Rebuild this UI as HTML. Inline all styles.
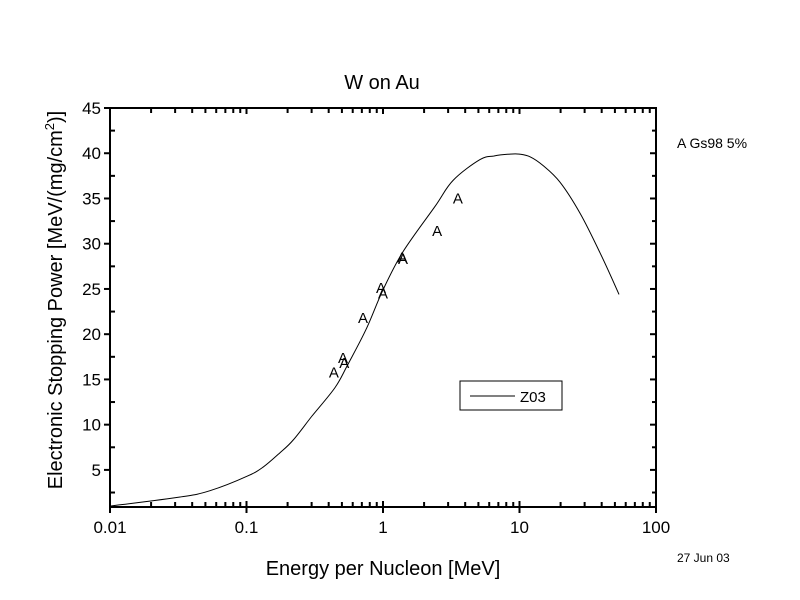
<!DOCTYPE html>
<html><head><meta charset="utf-8"><style>
body{margin:0;background:#fff;}
svg{display:block;font-family:"Liberation Sans",Arial,sans-serif;}
</style></head><body>
<svg id="chart" width="800" height="600" viewBox="0 0 800 600">
<rect width="800" height="600" fill="#fff"/>
<text x="382" y="89" font-size="20" text-anchor="middle">W on Au</text>
<text transform="translate(62,300) rotate(-90)" font-size="20" text-anchor="middle">Electronic Stopping Power [MeV/(mg/cm<tspan dy="-8" font-size="13">2</tspan><tspan dy="8">)]</tspan></text>
<text x="383" y="575" font-size="20" text-anchor="middle">Energy per Nucleon [MeV]</text>
<text x="677" y="148" font-size="14">A Gs98 5%</text>
<text x="677" y="562" font-size="12">27 Jun 03</text>
<g id="axes"></g>
<g id="series"></g>
<g>
<rect x="460" y="381" width="102" height="29" fill="#fff" stroke="#000" stroke-width="1"/>
<line x1="470" y1="396" x2="515" y2="396" stroke="#000"/>
<text x="520" y="402" font-size="15">Z03</text>
</g>
</svg>
<script>
const curveE=[0.01,0.0326,0.054,0.101,0.132,0.176,0.22,0.3,0.445,0.55,0.75,1.0,1.4,2.4,3.26,5.14,6.5,8.5,10,12,15,19.8,27.7,38.9,53.6];
const curveS=[1.0,2.0,2.7,4.3,5.3,6.9,8.3,10.9,14.1,16.6,20.5,24.9,29.1,34.1,37.0,39.3,39.7,39.9,39.9,39.6,38.6,36.8,33.4,29.0,24.4];
const expE=[0.437,0.509,0.52,0.713,0.967,1.0,1.38,1.40,2.49,3.54];
const expS=[15.9,17.5,16.9,21.9,25.2,24.6,28.6,28.4,31.5,35.1];
const yTicks=[5,10,15,20,25,30,35,40,45];
const xTicks=[0.01,0.1,1,10,100];
const xTickLabels=["0.01","0.1","1","10","100"];

const L=110,R=656,T=108,B=507,YMIN=0.9,YMAX=45;
const xs=v=>L+(Math.log10(v)+2)/4*(R-L);
const ys=v=>B-(v-YMIN)/(YMAX-YMIN)*(B-T);
const NS="http://www.w3.org/2000/svg";
function mk(tag,attrs,parent){const e=document.createElementNS(NS,tag);for(const k in attrs)e.setAttribute(k,attrs[k]);parent.appendChild(e);return e;}
const ax=document.getElementById('axes'),se=document.getElementById('series');
const frame=mk('rect',{x:L,y:T,width:R-L,height:B-T,fill:'none',stroke:'#000','stroke-width':2},ax);


for(let v=2.5;v<=45;v+=2.5){
  const y=ys(v);const major=v%5===0;
  const t1=mk('line',{x1:major?L-6:L,y1:y,x2:L+(major?0:5),y2:y,stroke:'#000','stroke-width':2},ax);
  
  
  const t2=mk('line',{x1:R,y1:y,x2:R-(major?6:4),y2:y,stroke:'#000','stroke-width':2},ax);
  
  
}
yTicks.forEach(v=>{
  const t=mk('text',{x:L-9,y:ys(v)+6,'font-size':17,'text-anchor':'end'},ax);t.textContent=v;
  
  
});
for(let d=-2;d<2;d++){for(let m=1;m<10;m++){
  const v=m*Math.pow(10,d);const x=xs(v);const major=m===1;
  const a=mk('line',{x1:x,y1:major?B+6:B,x2:x,y2:B-(major?6:5),stroke:'#000','stroke-width':2},ax);
  
  
  const b=mk('line',{x1:x,y1:T,x2:x,y2:T+(major?6:5),stroke:'#000','stroke-width':2},ax);
  
  
}}
const e100=mk('line',{x1:R,y1:B,x2:R,y2:B+6,stroke:'#000','stroke-width':2},ax);


xTicks.forEach((v,i)=>{
  const t=mk('text',{x:xs(v),y:B+26,'font-size':17,'text-anchor':'middle'},ax);t.textContent=xTickLabels[i];
  
  
});
// smooth curve (Catmull-Rom in pixel space)
const P=curveE.map((e,i)=>[xs(e),ys(curveS[i])]);
let d='M'+P[0][0].toFixed(1)+','+P[0][1].toFixed(1);
for(let i=0;i<P.length-1;i++){
  const p0=P[i-1]||P[i],p1=P[i],p2=P[i+1],p3=P[i+2]||P[i+1];
  const c1=[p1[0]+(p2[0]-p0[0])/6,p1[1]+(p2[1]-p0[1])/6];
  const c2=[p2[0]-(p3[0]-p1[0])/6,p2[1]-(p3[1]-p1[1])/6];
  d+=' C'+c1.map(n=>n.toFixed(1)).join(',')+' '+c2.map(n=>n.toFixed(1)).join(',')+' '+p2.map(n=>n.toFixed(1)).join(',');
}
const p=mk('path',{d:d,fill:'none',stroke:'#000','stroke-width':1},se);


expE.forEach((e,i)=>{
  const t=mk('text',{x:xs(e),y:ys(expS[i])+6,'font-size':15,'text-anchor':'middle'},se);t.textContent='A';
  
  
});
</script>
</body></html>
